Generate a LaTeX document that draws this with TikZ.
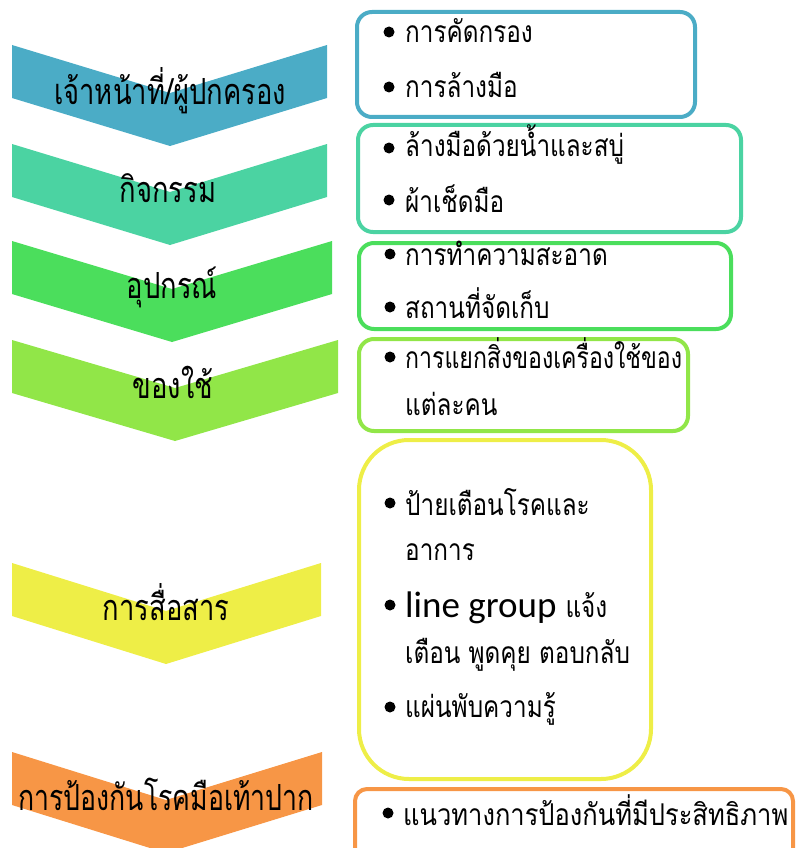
\documentclass[tikz,border=0pt]{standalone}
\usepackage{fontspec}
\usepackage{graphicx}
\newfontfamily\thai[Script=Thai]{Loma}
\newfontfamily\latn{Carlito}
\definecolor{cBlue}{HTML}{4BACC6}
\definecolor{cTeal}{HTML}{4BD3A2}
\definecolor{cGreen}{HTML}{4BDE5C}
\definecolor{cLime}{HTML}{91E648}
\definecolor{cYellow}{HTML}{EEEE47}
\definecolor{cOrange}{HTML}{F79646}
\newcommand\chevronshape[6]{% color, xl, xr, ytop, xtip, name
  \fill[#1] (#2,#4) -- (#5,#4+48) -- (#3,#4) -- (#3,#4+53) -- (#5,#4+101) -- (#2,#4+53) -- cycle;
  \coordinate (#6) at (#5,#4+53);
}
\newcommand\TT[2][0.81]{\scalebox{#1}[1]{\thai\fontsize{30}{34}\selectfont #2}}
\newcommand\CT[2][0.76]{\scalebox{#1}[1]{\thai\fontsize{36}{40}\selectfont #2}}
\begin{document}
\begin{tikzpicture}[x=1pt,y=-1pt,
  chevtext/.style={anchor=base,inner sep=0pt},
  itemtext/.style={anchor=base west,inner sep=0pt},
  frame/.style={line width=4pt,rounded corners=15pt},
  dot/.style={fill=black}]
\useasboundingbox (0,0) rectangle (795,848);
% chevrons
\chevronshape{cBlue}{12}{327}{45}{170}{c1}
\chevronshape{cTeal}{12}{327}{144}{170}{c2}
\chevronshape{cGreen}{12}{332}{241}{172}{c3}
\chevronshape{cLime}{12}{338}{340}{175}{c4}
\chevronshape{cYellow}{12}{321}{563}{166}{c5}
\chevronshape{cOrange}{12}{322}{752}{166}{c6}
\node[chevtext] (t1) at (170,105) {\CT{เจ้าหน้าที่/ผู้ปกครอง}};
\node[chevtext] (t2) at (168,202) {\CT{กิจกรรม}};
\node[chevtext] (t3) at (172,298) {\CT{อุปกรณ์}};
\node[chevtext] (t4) at (173,398) {\CT{ของใช้}};
\node[chevtext] (t5) at (166,620) {\CT{การสื่อสาร}};
\node[chevtext] (t6) at (166,810) {\CT[0.74]{การป้องกันโรคมือเท้าปาก}};
% boxes
\draw[frame,cBlue] (357,12) rectangle (695,117);
\draw[frame,cTeal] (358,125) rectangle (741,232);
\draw[frame,cGreen] (359,243) rectangle (731,329);
\draw[frame,cLime] (359,339) rectangle (688,431);
\draw[frame,cYellow,rounded corners=50pt] (359,440) rectangle (651,779);
\draw[frame,cOrange,rounded corners=12pt] (355,789) rectangle (793,870);
% bullets
\foreach \y in {32,87,148,200} \fill[dot] (389,\y) circle (5.5pt);
\foreach \y in {254,307,357,503,605,707} \fill[dot] (390,\y) circle (5.5pt);
\fill[dot] (388,813) circle (5.5pt);
% texts
\node[itemtext] (b1a) at (405,43) {\TT{การคัดกรอง}};
\node[itemtext] (b1b) at (405,98) {\TT{การล้างมือ}};
\node[itemtext] (b2a) at (405,157) {\TT{ล้างมือด้วยน้ำและสบู่}};
\node[itemtext] (b2b) at (405,212) {\TT{ผ้าเช็ดมือ}};
\node[itemtext] (b3a) at (405,265) {\TT{การทำความสะอาด}};
\node[itemtext] (b3b) at (405,318) {\TT{สถานที่จัดเก็บ}};
\node[itemtext] (b4a) at (405,368) {\TT[0.77]{การแยกสิ่งของเครื่องใช้ของ}};
\node[itemtext] (b4b) at (405,415) {\TT{แต่ละคน}};
\node[itemtext] (b5a) at (405,515) {\TT{ป้ายเตือนโรคและ}};
\node[itemtext] (b5b) at (405,560) {\TT{อาการ}};
\node[itemtext] (b5c) at (405,617) {{\latn\fontsize{37}{40}\selectfont line group}\hspace{9pt}\TT{แจ้ง}};
\node[itemtext] (b5d) at (405,663) {\TT{เตือน พูดคุย ตอบกลับ}};
\node[itemtext] (b5e) at (405,717) {\TT{แผ่นพับความรู้}};
\node[itemtext] (b6a) at (403,825) {\TT[0.85]{แนวทางการป้องกันที่มีประสิทธิภาพ}};
\end{tikzpicture}
\end{document}
